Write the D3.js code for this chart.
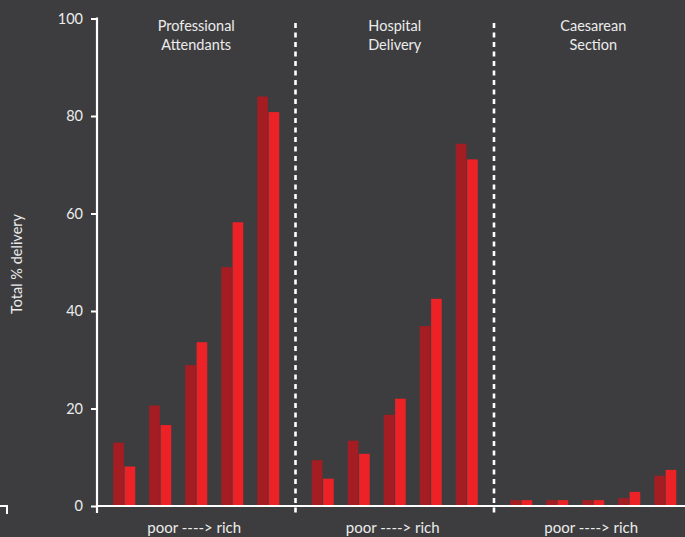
<!DOCTYPE html>
<html>
<head>
<meta charset="utf-8">
<script src="https://cdn.jsdelivr.net/npm/d3@7"></script>
<style>
  html, body { margin: 0; padding: 0; background: #3d3d3f; }
  svg { display: block; }
  text { font-family: Lato, "Open Sans", sans-serif; fill: #ececec; }
</style>
</head>
<body>
<svg id="chart" width="685" height="537"></svg>
<script>
// ---- data ----
const sections = ["Professional Attendants", "Hospital Delivery", "Caesarean Section"];
const sectionLines = [["Professional", "Attendants"], ["Hospital", "Delivery"], ["Caesarean", "Section"]];
const quintiles = ["Q1", "Q2", "Q3", "Q4", "Q5"];
const seriesNames = ["first", "second"];
const firstValues = [
  [13.0, 20.6, 28.9, 49.0, 84.0],
  [9.4, 13.4, 18.7, 36.9, 74.3],
  [1.2, 1.2, 1.2, 1.6, 6.2]
];
const secondValues = [
  [8.1, 16.6, 33.6, 58.2, 80.8],
  [5.6, 10.7, 22.0, 42.5, 71.1],
  [1.2, 1.2, 1.2, 2.9, 7.4]
];
const yTicks = [0, 20, 40, 60, 80, 100];
const xLabel = "poor ----> rich";
const yLabel = "Total % delivery";

// ---- layout ----
const svg = d3.select("#chart");
const mLeft = 97, mBottom = 506, mTop = 18.5, secW = 198.5;
const colors = { first: "#a31d23", second: "#ec2227" };

const y = d3.scaleLinear().domain([0, 100]).range([mBottom, mTop]);
const x0 = d3.scaleBand().domain(sections).range([mLeft, mLeft + secW * 3]);
const x1 = d3.scaleBand().domain(quintiles).range([0, secW]).paddingInner(0.389).paddingOuter(0.451);
const x2 = d3.scaleBand().domain(seriesNames).range([0, x1.bandwidth()]).paddingInner(0.06);

// bars
const rows = [];
sections.forEach((s, si) => {
  quintiles.forEach((q, qi) => {
    rows.push({ s, q, k: "first", v: firstValues[si][qi] });
    rows.push({ s, q, k: "second", v: secondValues[si][qi] });
  });
});
svg.append("g").selectAll("rect").data(rows).join("rect")
  .attr("x", d => x0(d.s) + x1(d.q) + x2(d.k))
  .attr("y", d => y(d.v))
  .attr("width", x2.bandwidth())
  .attr("height", d => y(0) - y(d.v))
  .attr("fill", d => colors[d.k]);

// dashed dividers
svg.append("g").selectAll("line").data(sections.slice(1)).join("line")
  .attr("x1", d => x0(d)).attr("x2", d => x0(d))
  .attr("y1", 23).attr("y2", 515)
  .attr("stroke", "#ffffff").attr("stroke-width", 2.6)
  .attr("stroke-dasharray", "5,4.5");

// y axis
const yAxis = svg.append("g").attr("transform", `translate(${mLeft},0)`)
  .call(d3.axisLeft(y).tickValues(yTicks).tickSize(6).tickPadding(8));
yAxis.select(".domain").remove();
yAxis.selectAll(".tick line").attr("stroke", "#ffffff").attr("stroke-width", 2);
yAxis.selectAll(".tick text").attr("font-size", 14.5).style("font-family", "Lato, 'Open Sans', sans-serif").attr("fill", "#ececec");
svg.append("line").attr("x1", mLeft).attr("x2", mLeft).attr("y1", mTop - 1).attr("y2", mBottom + 7)
  .attr("stroke", "#ffffff").attr("stroke-width", 2.2);

// x axis baseline
svg.append("line").attr("x1", mLeft).attr("x2", 685).attr("y1", mBottom).attr("y2", mBottom)
  .attr("stroke", "#ffffff").attr("stroke-width", 2.2);

// corner artifact at bottom-left
svg.append("path").attr("d", `M0,${mBottom} H7 V${mBottom + 8}`)
  .attr("fill", "none").attr("stroke", "#ffffff").attr("stroke-width", 2);

// section headers
const hdr = svg.append("g").selectAll("text").data(sections).join("text")
  .attr("x", d => x0(d) + x0.bandwidth() / 2)
  .attr("y", 31)
  .attr("text-anchor", "middle")
  .attr("font-size", 14.5);
hdr.each(function(d, i) {
  const t = d3.select(this);
  sectionLines[i].forEach((ln, j) => {
    t.append("tspan").attr("x", x0(d) + x0.bandwidth() / 2).attr("dy", j === 0 ? 0 : 19).text(ln);
  });
});

// bottom labels
svg.append("g").selectAll("text").data(sections).join("text")
  .attr("x", d => x0(d) + x0.bandwidth() / 2 - 2)
  .attr("y", 533)
  .attr("text-anchor", "middle")
  .attr("font-size", 15)
  .text(xLabel);

// y axis title
svg.append("text")
  .attr("transform", "translate(22,264) rotate(-90)")
  .attr("text-anchor", "middle")
  .attr("font-size", 14.5)
  .text(yLabel);
</script>
</body>
</html>
